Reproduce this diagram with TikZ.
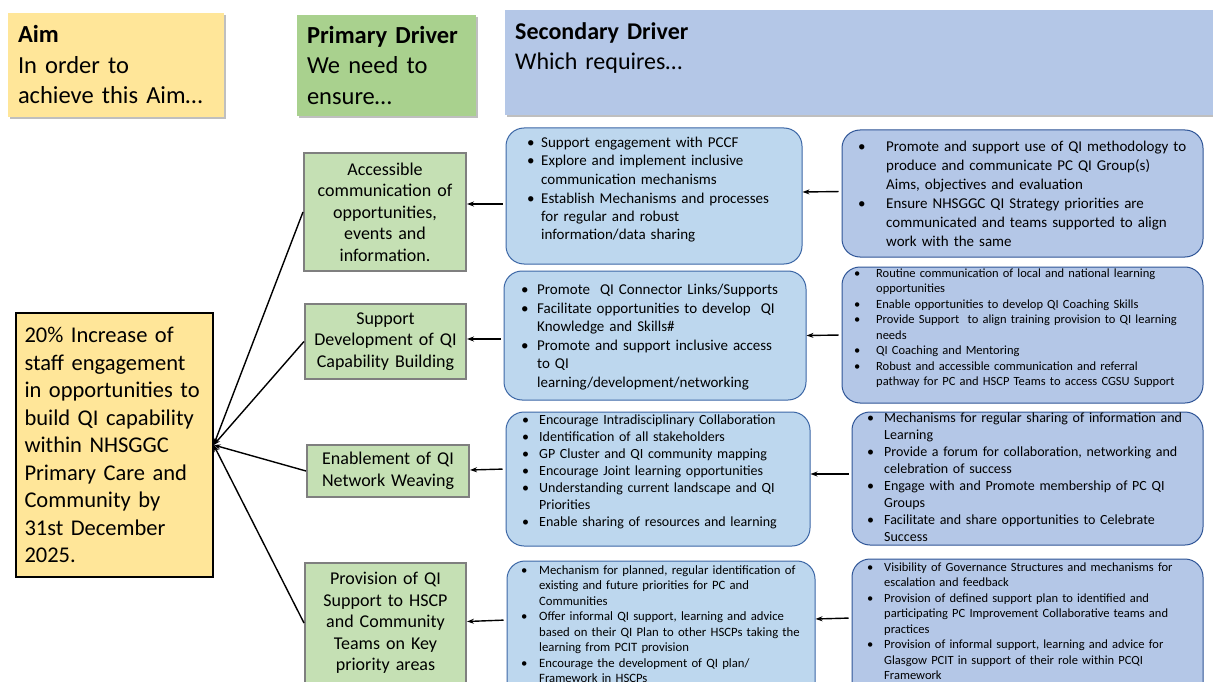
\documentclass[tikz,border=0pt]{standalone}
\usepackage{fontspec}
\setmainfont{Carlito}
\usepackage{xcolor}
\usetikzlibrary{arrows.meta,shadows}

\definecolor{aimyel}{HTML}{FFE699}
\definecolor{primhd}{HTML}{A9D18E}
\definecolor{primgrn}{HTML}{C5E0B4}
\definecolor{primgray}{HTML}{7F7F7F}
\definecolor{secAfill}{HTML}{BDD7EE}
\definecolor{secAline}{HTML}{3C67A6}
\definecolor{secBfill}{HTML}{B4C7E7}
\definecolor{secBline}{HTML}{2F5597}

\newlength\bhang
\newcommand{\bltf}{\noindent\hangindent=\bhang\hangafter=1\makebox[\bhang][l]{\textbullet}}
\newcommand{\blt}{\par\bltf}

\tikzset{
  hdr/.style={inner sep=0pt, align=left,
    drop shadow={shadow xshift=2pt, shadow yshift=-2pt, opacity=0.25, fill=black}},
  aimbox/.style={draw=black, line width=1.3pt, fill=aimyel, inner sep=0pt, align=left,
    font=\fontsize{22.5}{27.5}\selectfont},
  prim/.style={draw=primgray, line width=2pt, fill=primgrn, inner sep=0pt, align=center,
    text width=158pt, font=\fontsize{18}{21.5}\selectfont},
  secA/.style={draw=secAline, line width=1pt, fill=secAfill, rounded corners=18pt},
  secB/.style={draw=secBline, line width=1pt, fill=secBfill, rounded corners=18pt},
  lst/.style={anchor=base west, inner sep=0pt, align=left, text width=360pt,
    execute at begin node={\setlength\bhang{#1}}},
  ln/.style={line width=1.4pt, -{Stealth[length=7pt,width=5pt]}},
  arr/.style={line width=1.4pt, shorten <=3pt, -{Stealth[length=7pt,width=5pt]}}
}

\begin{document}
\begin{tikzpicture}[x=1pt,y=-1pt]
	\useasboundingbox (0,0) rectangle (1213,682);
	\fill[white] (0,0) rectangle (1213,682);
	\clip (0,0) rectangle (1213,682);

	\node[hdr, fill=aimyel, minimum width=216pt, minimum height=104pt, text width=196pt,
		font=\fontsize{24.5}{30.5}\selectfont] (aimhd) at (116,65) {\textbf{Aim}\\In order to\\achieve this Aim…};
	\node[hdr, fill=primhd, minimum width=179pt, minimum height=101pt, text width=159pt,
		font=\fontsize{24.5}{30.5}\selectfont] (primhd) at (386.5,65.5) {\textbf{Primary Driver}\\We need to\\ensure…};
	\node[hdr, fill=secBfill, minimum width=715pt, minimum height=105pt] (sechd) at (862.5,62.5) {};
	\node[anchor=base west, inner sep=0pt, align=left, text width=300pt,
		font=\fontsize{24}{30}\selectfont] (sechdtxt) at (515,40) {\textbf{Secondary Driver}\\Which requires…};

	\node[aimbox, minimum width=197pt, minimum height=264pt, text width=180pt] (aim) at (114.5,445)
		{20\% Increase of\\staff engagement\\in opportunities to\\build QI capability\\within NHSGGC\\Primary Care and\\Community by\\31st December\\2025.};

	\node[prim, minimum width=162pt, minimum height=118pt] (p1) at (385,212)
		{Accessible\\communication of\\opportunities,\\events and\\information.};
	\node[prim, minimum width=161pt, minimum height=75pt] (p2) at (385.5,341.5)
		{Support\\Development of QI\\Capability Building};
	\node[prim, minimum width=162pt, minimum height=52pt] (p3) at (388,471)
		{Enablement of QI\\Network Weaving};
	\node[prim, minimum width=161pt, minimum height=120pt] (p4) at (385.5,623)
		{Provision of QI\\Support to HSCP\\and Community\\Teams on Key\\priority areas};

	\node[secA, minimum width=296pt, minimum height=136pt] (s1) at (654,196) {};
	\node[secA, minimum width=302pt, minimum height=129pt] (s2) at (655,335.5) {};
	\node[secA, minimum width=304pt, minimum height=134pt] (s3) at (658,479) {};
	\node[secA, minimum width=308pt, minimum height=139pt] (s4) at (661,630.5) {};

	\node[secB, minimum width=361pt, minimum height=127pt] (t1) at (1022.5,193.5) {};
	\node[secB, minimum width=361pt, minimum height=136pt] (t2) at (1022.5,335) {};
	\node[secB, minimum width=351pt, minimum height=133pt] (t3) at (1027.5,478.5) {};
	\node[secB, minimum width=351pt, minimum height=141pt] (t4) at (1027.5,629.5) {};

	\node[lst=14pt, font=\fontsize{15}{18.5}\selectfont] (s1txt) at (527,147.5)
		{\bltf Support engagement with PCCF
		 \blt Explore and implement inclusive\newline communication mechanisms
		 \blt Establish Mechanisms and processes\newline for regular and robust\newline information/data sharing\par};
	\node[lst=16pt, font=\fontsize{15}{18.5}\selectfont] (s2txt) at (521,294.5)
		{\bltf Promote\ \ QI Connector Links/Supports
		 \blt Facilitate opportunities to develop\ \ QI\newline Knowledge and Skills\#
		 \blt Promote and support inclusive access\newline to QI\newline learning/development/networking\par};
	\node[lst=17pt, font=\fontsize{14}{17}\selectfont] (s3txt) at (522,424)
		{\bltf Encourage Intradisciplinary Collaboration
		 \blt Identification of all stakeholders
		 \blt GP Cluster and QI community mapping
		 \blt Encourage Joint learning opportunities
		 \blt Understanding current landscape and QI\newline Priorities
		 \blt Enable sharing of resources and learning\par};
	\node[lst=18pt, font=\fontsize{12.7}{15.5}\selectfont] (s4txt) at (521,574)
		{\bltf Mechanism for planned, regular identification of\newline existing and future priorities for PC and\newline Communities
		 \blt Offer informal QI support, learning and advice\newline based on their QI Plan to other HSCPs taking the\newline learning from PCIT provision
		 \blt Encourage the development of QI plan/\newline Framework in HSCPs\par};

	\node[lst=28pt, font=\fontsize{15}{19}\selectfont] (t1txt) at (858,151.5)
		{\bltf Promote and support use of QI methodology to\newline produce and communicate PC QI Group(s)\newline Aims, objectives and evaluation
		 \blt Ensure NHSGGC QI Strategy priorities are\newline communicated and teams supported to align\newline work with the same\par};
	\node[lst=22pt, font=\fontsize{12.5}{15.5}\selectfont] (t2txt) at (854,277)
		{\bltf Routine communication of local and national learning\newline opportunities
		 \blt Enable opportunities to develop QI Coaching Skills
		 \blt Provide Support\ \ to align training provision to QI learning\newline needs
		 \blt QI Coaching and Mentoring
		 \blt Robust and accessible communication and referral\newline pathway for PC and HSCP Teams to access CGSU Support\par};
	\node[lst=17pt, font=\fontsize{14}{17}\selectfont] (t3txt) at (867,422)
		{\bltf Mechanisms for regular sharing of information and\newline Learning
		 \blt Provide a forum for collaboration, networking and\newline celebration of success
		 \blt Engage with and Promote membership of PC QI\newline Groups
		 \blt Facilitate and share opportunities to Celebrate\newline Success\par};
	\node[lst=17pt, font=\fontsize{12.5}{15.5}\selectfont] (t4txt) at (867,571)
		{\bltf Visibility of Governance Structures and mechanisms for\newline escalation and feedback
		 \blt Provision of defined support plan to identified and\newline participating PC Improvement Collaborative teams and\newline practices
		 \blt Provision of informal support, learning and advice for\newline Glasgow PCIT in support of their role within PCQI\newline Framework\par};

	\draw[ln] (p1.west) -- (aim.east);
	\draw[ln] (p2.west) -- (aim.east);
	\draw[ln] (p3.west) -- (aim.east);
	\draw[ln] (p4.west) -- (aim.east);

	\draw[arr] ([yshift=-8pt]s1.west) -- ([yshift=8pt]p1.east);
	\draw[arr] ([yshift=-3.5pt]s2.west) -- ([yshift=2.5pt]p2.east);
	\draw[arr] ([yshift=10pt]s3.west) -- ([yshift=1pt]p3.east);
	\draw[arr] ([yshift=10.5pt]s4.west) -- ([yshift=1.5pt]p4.east);

	\draw[arr] ([yshift=2pt]t1.west) -- ([yshift=4pt]s1.east);
	\draw[arr] (t2.west) -- (s2.east);
	\draw[arr] ([yshift=4.5pt]t3.west) -- ([yshift=5pt]s3.east);
	\draw[arr] ([yshift=11.5pt]t4.west) -- ([yshift=11.5pt]s4.east);
\end{tikzpicture}
\end{document}
